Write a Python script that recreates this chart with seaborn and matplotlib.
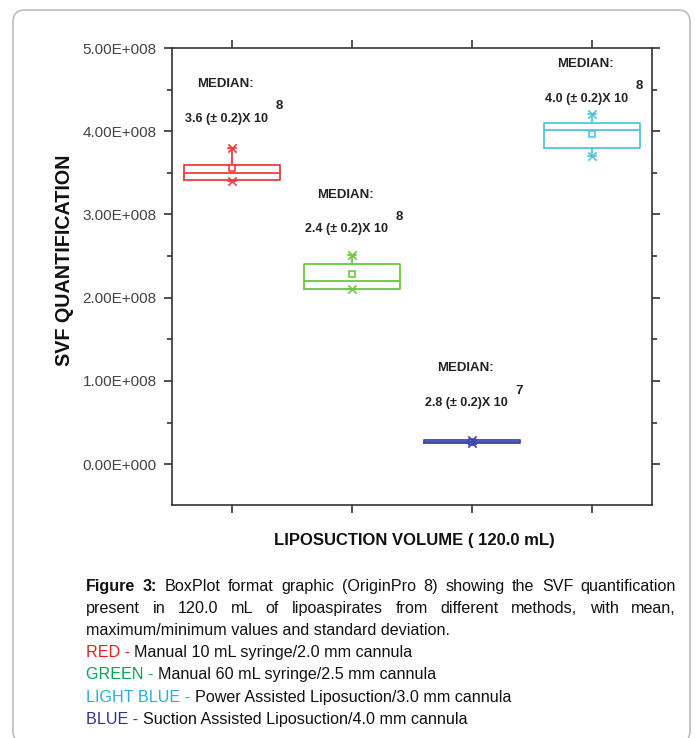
import numpy as np
import pandas as pd
import matplotlib
matplotlib.use("Agg")
import matplotlib.pyplot as plt
import seaborn as sns
from matplotlib.patches import FancyBboxPatch
from matplotlib.ticker import MultipleLocator

# ---------------- data (in plotting order) ----------------
methods = ["RED", "GREEN", "BLUE", "LIGHT BLUE"]
svf_min = [3.40e8, 2.10e8, 0.250e8, 3.70e8]
svf_q1 = [3.42e8, 2.10e8, 0.250e8, 3.80e8]
svf_median = [3.50e8, 2.20e8, 0.270e8, 4.01e8]
svf_q3 = [3.60e8, 2.40e8, 0.290e8, 4.095e8]
svf_max = [3.80e8, 2.51e8, 0.290e8, 4.21e8]
svf_mean = [3.555e8, 2.285e8, 0.270e8, 3.965e8]
median_mantissa = ["3.6", "2.4", "2.8", "4.0"]
median_exponent = ["8", "8", "7", "8"]
ytick_values = [0.0, 1e8, 2e8, 3e8, 4e8, 5e8]
ytick_labels = ["0.00E+000", "1.00E+008", "2.00E+008", "3.00E+008", "4.00E+008", "5.00E+008"]

box_colors = ["#ee3b3b", "#6cc63e", "#3d48ad", "#4fc6de"]

caption_methods = ["RED", "GREEN", "LIGHT BLUE", "BLUE"]
caption_colors = ["#ed1c24", "#00a651", "#29abe2", "#2e3192"]
caption_desc = ["Manual 10 mL syringe/2.0 mm cannula",
                "Manual 60 mL syringe/2.5 mm cannula",
                "Power Assisted Liposuction/3.0 mm cannula",
                "Suction Assisted Liposuction/4.0 mm cannula"]

# annotation layout (y positions of the "MEDIAN:" line, data units)
label_y = [4.57e8, 3.24e8, 1.15e8, 4.81e8]

# -------- build a five-number table per method for seaborn --------
rows = []
for m, lo, a, md, b, hi in zip(methods, svf_min, svf_q1, svf_median, svf_q3, svf_max):
    for v in (lo, a, md, b, hi):
        rows.append((m, v))
df = pd.DataFrame(rows, columns=["method", "svf"])

sns.set_theme(style="ticks")
plt.rcParams["font.family"] = ["Liberation Sans", "DejaVu Sans"]

W, H = 695, 738
fig = plt.figure(figsize=(W / 100, H / 100), dpi=100)
ax = fig.add_axes([172 / W, 1 - 505 / H, (652 - 172) / W, (505 - 48) / H])

palette = dict(zip(methods, box_colors))
sns.boxplot(data=df, x="method", y="svf", hue="method", palette=palette,
            order=methods, hue_order=methods,
            fill=False, width=0.8, linewidth=1.3, whis=(0, 100),
            showfliers=False, legend=False, ax=ax,
            capprops=dict(linewidth=1.3))

# shorten caps
for line in ax.lines:
    xd = np.asarray(line.get_xdata(), dtype=float)
    yd = np.asarray(line.get_ydata(), dtype=float)
    if len(xd) == 2 and yd[0] == yd[1] and 0.05 < abs(xd[1] - xd[0]) < 0.5:
        c = xd.mean()
        line.set_xdata([c - 0.035, c + 0.035])

for i, c in enumerate(box_colors):
    ax.scatter(i, svf_mean[i], marker="s", s=22, facecolors="white",
               edgecolors=c, linewidths=1.2, zorder=5)
    ax.scatter([i, i], [svf_min[i], svf_max[i]], marker="x", s=36,
               c=c, linewidths=1.2, zorder=5)

# annotations
for i in range(4):
    ax.text(i - 0.055, label_y[i], "MEDIAN:", ha="center", va="center",
            fontsize=9.5, fontweight="bold", color="#222")
    ax.text(i - 0.045, label_y[i] - 0.42e8, f"{median_mantissa[i]} (± 0.2)X 10",
            ha="center", va="center", fontsize=9, fontweight="bold", color="#222")
    ax.text(i + 0.365, label_y[i] - 0.27e8, median_exponent[i], ha="left",
            va="center", fontsize=9.5, fontweight="bold", color="#222")

ax.set_xlim(-0.5, 3.5)
ax.set_ylim(-0.49e8, 5.0e8)
ax.set_yticks(ytick_values)
ax.set_yticklabels(ytick_labels, fontsize=11, color="#444")
ax.yaxis.set_minor_locator(MultipleLocator(0.5e8))
ax.set_xticks(range(4))
ax.set_xticklabels([])
ax.set_xlabel("")
ax.set_ylabel("")
ax.tick_params(axis="x", which="major", top=True, bottom=True, direction="out",
               length=6, width=1.2, color="#333")
ax.tick_params(axis="y", which="major", left=True, right=True, direction="out",
               length=6, width=1.2, color="#333", pad=5)
ax.tick_params(axis="y", which="minor", left=True, right=True, direction="out",
               length=3.5, width=1.2, color="#333")
for s in ax.spines.values():
    s.set_color("#333")
    s.set_linewidth(1.2)

fig.text(65 / W, 1 - 260 / H, "SVF QUANTIFICATION", rotation=90, ha="center",
         va="center", fontsize=14.2, fontweight="bold", color="#111")
fig.text(414 / W, 1 - 541 / H, "LIPOSUCTION VOLUME ( 120.0 mL)", ha="center",
         va="center", fontsize=12, fontweight="bold", color="#111")

# ---------------- caption ----------------
renderer = fig.canvas.get_renderer()
CAP_FS = 11.6


def text_width(s, weight="normal"):
    t = fig.text(0, 0, s, fontsize=CAP_FS, fontweight=weight)
    w = t.get_window_extent(renderer).width
    t.remove()
    return w


space_w = text_width("x x") - text_width("xx")


def draw_line(segs, baseline_px, x0_px, x1_px=None):
    widths = [text_width(w, wt) for w, c, wt in segs]
    if x1_px is not None and len(segs) > 1:
        gap = (x1_px - x0_px - sum(widths)) / (len(segs) - 1)
    else:
        gap = space_w
    x = x0_px
    for (w, c, wt), wd in zip(segs, widths):
        fig.text(x / W, 1 - baseline_px / H, w, fontsize=CAP_FS, fontweight=wt,
                 color=c, ha="left", va="baseline")
        x += wd + gap


def words(s, color="#111"):
    return [(w, color, "normal") for w in s.split()]


line1 = [("Figure", "#111", "bold"), ("3:", "#111", "bold")] + words(
    "BoxPlot format graphic (OriginPro 8) showing the SVF quantification")
line2 = words("present in 120.0 mL of lipoaspirates from different methods, with mean,")
X0, X1 = 86, 676
draw_line(line1, 591, X0, X1)
draw_line(line2, 613, X0, X1)
draw_line([("maximum/minimum values and standard deviation.", "#111", "normal")], 635, X0)
for k, (m, c, d) in enumerate(zip(caption_methods, caption_colors, caption_desc)):
    segs = [(m + " -", c, "normal"), (d, "#111", "normal")]
    draw_line(segs, 657 + 22.3 * k, X0)

# outer rounded frame
frame = FancyBboxPatch((0.13, -0.05), 6.77, 7.33,
                       boxstyle="round,pad=0,rounding_size=0.12",
                       transform=fig.dpi_scale_trans, fill=False,
                       edgecolor="#bdbdbd", linewidth=1.2)
fig.patches.append(frame)

fig.savefig("out.png", dpi=100)
